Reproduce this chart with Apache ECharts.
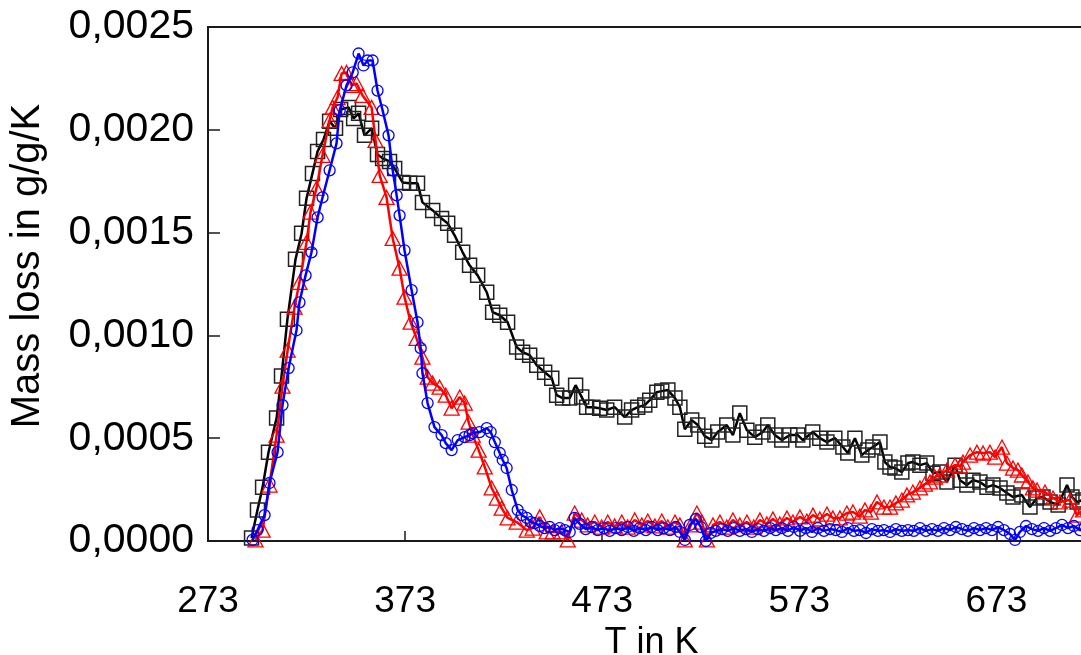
<!DOCTYPE html>
<html>
<head>
<meta charset="utf-8">
<script src="https://cdn.jsdelivr.net/npm/echarts@6/dist/echarts.min.js"></script>
<style>
html,body{margin:0;padding:0;background:#fff;}
#chart{width:1081px;height:655px;}
</style>
</head>
<body>
<div id="chart"></div>
<script>
// Axis
const xTitle = 'T in K';
const yTitle = 'Mass loss in g/g/K';
const xMin = 273, xMax = 723, xStep = 100;
const yMin = 0, yMax = 0.0025, yStep = 0.0005;

// Black squares series
const blackT = [295.1,298.1,300.7,303.7,307.8,310.3,313.3,317.4,320.5,323.0,326.0,328.6,331.6,334.7,337.7,340.3,344.3,346.9,349.4,352.4,356.0,359.0,361.6,365.1,367.7,371.7,375.3,379.3,381.8,387.0,391.5,394.6,398.1,402.2,405.7,409.8,414.4,417.4,421.0,425.0,429.6,432.6,436.2,439.8,443.8,447.4,449.9,452.9,456.5,459.5,462.6,465.1,468.2,471.7,475.3,479.3,484.4,487.9,491.0,494.6,497.1,500.7,503.2,506.3,509.9,512.4,514.9,518.4,521.5,525.0,528.6,531.6,536.2,539.3,542.8,546.4,550.4,554.5,557.0,560.6,564.1,568.2,572.2,574.8,579.8,583.4,587.0,591.0,595.1,597.6,601.2,604.7,607.8,610.3,613.9,616.4,619.0,621.5,625.0,628.1,630.6,634.2,637.7,640.8,644.3,647.9,652.0,654.5,658.0,661.1,664.6,668.2,671.2,674.8,678.3,681.4,685.9,690.0,693.6,696.6,700.2,704.3,708.8,711.3,713.9,716.9];
const blackV = [0.000015,0.000151,0.000262,0.000432,0.000598,0.000802,0.001079,0.00137,0.001497,0.001667,0.001788,0.001895,0.001953,0.002041,0.002007,0.002099,0.002109,0.002055,0.00208,0.001973,0.002007,0.00188,0.001861,0.001846,0.001812,0.001744,0.00174,0.00174,0.001647,0.001608,0.001569,0.001545,0.001487,0.001404,0.001341,0.001292,0.00121,0.001113,0.001098,0.001064,0.000943,0.000918,0.000904,0.000855,0.000821,0.000792,0.000709,0.000695,0.000695,0.000758,0.0007,0.000651,0.000651,0.000646,0.000637,0.000651,0.000603,0.000637,0.000651,0.000661,0.000685,0.000724,0.000729,0.000734,0.000695,0.000651,0.000544,0.000588,0.000564,0.00051,0.000491,0.00053,0.000564,0.000515,0.000622,0.000539,0.000505,0.00053,0.000564,0.000515,0.000491,0.000515,0.000515,0.000491,0.00053,0.0005,0.000481,0.0005,0.000457,0.000428,0.0005,0.000418,0.000442,0.000457,0.000481,0.000384,0.00036,0.000355,0.000335,0.000379,0.000384,0.000369,0.000379,0.00033,0.000335,0.000287,0.000369,0.000296,0.000272,0.000296,0.000287,0.000262,0.000272,0.000258,0.000233,0.000214,0.000224,0.000165,0.000209,0.000214,0.00019,0.000175,0.000272,0.000214,0.00019,0.0002];

// Red triangles series
const redT = [297.1,300.7,304.2,307.8,310.8,313.4,316.9,319.4,323.0,325.0,328.0,331.1,334.7,336.2,338.7,340.8,343.3,345.8,348.4,351.4,356.0,358.0,360.1,363.6,366.7,370.2,372.7,375.8,378.8,381.8,384.4,386.9,390.5,393.6,396.6,400.7,403.2,405.2,407.3,410.3,413.4,416.9,419.5,422.0,425.0,429.6,434.7,437.7,441.3,444.8,447.9,452.4,455.5,459.0,462.6,465.6,469.2,472.7,475.8,479.3,482.9,485.9,489.5,493.1,496.1,499.7,503.2,506.3,509.9,512.4,514.9,518.0,521.0,523.6,526.1,529.2,532.7,536.2,539.3,542.8,546.4,549.9,553.0,556.5,559.6,563.1,566.7,569.7,573.3,576.8,579.9,583.4,587.0,590.0,593.6,597.1,600.2,603.7,606.3,609.3,612.4,615.9,619.0,622.0,625.0,627.6,630.6,634.2,636.7,639.3,641.8,644.3,647.9,652.0,654.5,656.0,659.6,663.1,666.2,669.7,672.3,675.8,678.3,681.4,683.9,685.9,689.0,691.5,693.6,697.6,701.7,705.2,710.3,713.9,716.9];
const redV = [0.000005,0.000053,0.000272,0.000515,0.000753,0.000928,0.001137,0.001258,0.001453,0.001599,0.001715,0.001876,0.002046,0.002109,0.002157,0.002274,0.002279,0.002216,0.002225,0.002167,0.002109,0.001948,0.001778,0.001671,0.001472,0.001327,0.001186,0.001064,0.000986,0.000894,0.000797,0.000768,0.000748,0.000709,0.000646,0.0007,0.000671,0.000578,0.000515,0.000442,0.00036,0.000258,0.000209,0.00016,0.000112,0.000092,0.000053,0.000063,0.000117,0.000044,0.000044,0.000044,0.000005,0.000136,0.000102,0.000078,0.000092,0.000068,0.000092,0.000073,0.000092,0.000068,0.000102,0.000078,0.000097,0.000073,0.000097,0.000068,0.000092,0.000078,0.000005,0.000078,0.000136,0.000092,0.000005,0.000078,0.000092,0.000068,0.000102,0.000078,0.000092,0.000068,0.000102,0.000083,0.000107,0.000083,0.000112,0.000092,0.000117,0.000097,0.000126,0.000107,0.000131,0.000112,0.000112,0.000136,0.000141,0.000121,0.000151,0.000141,0.00019,0.000165,0.000165,0.000185,0.000199,0.000224,0.000238,0.000258,0.000277,0.000287,0.000311,0.000321,0.000345,0.000369,0.000364,0.000384,0.000418,0.000432,0.000428,0.000432,0.000408,0.000457,0.000379,0.000355,0.000345,0.000321,0.000287,0.000258,0.000248,0.000238,0.000209,0.00019,0.000199,0.000126,0.000151];

// Blue circles series
const blueT = [295.6,298.1,301.7,304.2,308.3,310.8,313.9,317.9,319.4,322.5,325.5,328.6,331.1,334.7,338.2,339.8,343.3,346.4,349.4,351.9,354.0,356.5,359.0,361.6,364.6,366.7,368.7,370.2,372.7,376.3,379.3,380.9,381.8,384.4,387.9,391.5,393.6,396.6,399.7,403.2,405.7,407.3,410.8,414.4,416.4,418.5,421.0,422.5,424.5,427.1,430.1,432.1,434.7,436.7,438.7,441.3,443.8,446.4,448.9,451.4,454.0,456.5,459.0,461.6,464.6,467.7,470.7,473.8,476.8,479.9,482.9,485.9,489.0,492.0,495.1,498.1,501.2,504.2,507.3,510.3,512.4,514.9,517.4,520.5,523.0,525.6,528.1,530.6,533.7,536.7,539.8,542.8,545.9,548.9,552.0,555.0,558.1,561.1,564.1,567.2,570.2,573.3,576.3,579.4,582.4,585.5,588.5,591.5,594.6,597.6,600.7,603.7,606.8,609.8,612.9,615.9,619.0,622.0,625.0,628.1,631.1,634.2,637.2,640.3,643.3,646.4,649.4,652.4,655.5,658.5,661.6,664.6,667.7,670.7,673.8,676.8,679.9,682.4,684.9,688.0,691.0,694.1,697.1,700.2,703.2,706.3,709.3,712.3,715.4,717.9];
const blueV = [0.000005,0.000053,0.000126,0.000282,0.000432,0.000661,0.000841,0.001025,0.001161,0.001292,0.001404,0.001574,0.001671,0.001803,0.001934,0.002094,0.002216,0.002279,0.002371,0.002313,0.002337,0.002337,0.002191,0.002094,0.001973,0.001803,0.001681,0.001584,0.001414,0.00122,0.001064,0.000938,0.000816,0.000671,0.000554,0.000515,0.000476,0.000442,0.000491,0.000505,0.000515,0.000525,0.00053,0.000549,0.00053,0.000481,0.000428,0.000394,0.000355,0.000248,0.000151,0.000126,0.000112,0.000092,0.000087,0.000073,0.000063,0.000068,0.000053,0.000063,0.000053,0.000044,0.000112,0.000083,0.000058,0.000068,0.000053,0.000063,0.000049,0.000063,0.000053,0.000068,0.000049,0.000063,0.000053,0.000068,0.000053,0.000063,0.000053,0.000068,0.000044,0.000005,0.000078,0.000107,0.000068,0.0,0.000039,0.000049,0.000058,0.000049,0.000063,0.000049,0.000058,0.000044,0.000058,0.000049,0.000063,0.000053,0.000063,0.000049,0.000068,0.000049,0.000063,0.000044,0.000063,0.000049,0.000058,0.000053,0.000044,0.000063,0.000049,0.000053,0.000039,0.000058,0.000049,0.000053,0.000044,0.000058,0.000049,0.000053,0.000049,0.000063,0.000049,0.000058,0.000049,0.000063,0.000053,0.000068,0.000058,0.000049,0.000063,0.000053,0.000063,0.000053,0.000068,0.000053,0.000034,0.000005,0.000044,0.000073,0.000058,0.000049,0.000063,0.000049,0.000063,0.000078,0.000063,0.000073,0.000053,0.000068];

function pairs(t, v) { return t.map((x, i) => [x, v[i]]); }

const chart = echarts.init(document.getElementById('chart'), null, {renderer: 'canvas'});
const axisColor = '#1a1a1a';
chart.setOption({
  animation: false,
  backgroundColor: '#fff',
  grid: {
    left: 208, top: 27, bottom: 114, right: -14,
    outerBoundsMode: 'none', containLabel: false,
    show: true, borderColor: axisColor, borderWidth: 2, backgroundColor: 'transparent'
  },
  xAxis: {
    type: 'value', min: xMin, max: xMax, interval: xStep,
    name: xTitle, nameLocation: 'middle', nameGap: 76,
    nameTextStyle: {fontFamily: 'Liberation Sans', fontSize: 36, color: '#000'},
    axisLine: {show: true, onZero: false, lineStyle: {color: axisColor, width: 2}},
    axisTick: {show: true, inside: true, length: 10, lineStyle: {color: axisColor, width: 1.5}},
    axisLabel: {show: true, margin: 42, showMaxLabel: false, fontFamily: 'Liberation Sans', fontSize: 37, color: '#000'},
    splitLine: {show: false}
  },
  yAxis: {
    type: 'value', min: yMin, max: yMax, interval: yStep,
    name: yTitle, nameLocation: 'middle', nameRotate: 90, nameGap: 160,
    nameTextStyle: {fontFamily: 'Liberation Sans', fontSize: 40, color: '#000', padding: [0, 0, 0, 36]},
    axisLine: {show: true, onZero: false, lineStyle: {color: axisColor, width: 2}},
    axisTick: {show: true, inside: true, length: 12, lineStyle: {color: axisColor, width: 1.5}},
    axisLabel: {show: true, margin: 14, fontFamily: 'Liberation Sans', fontSize: 41, color: '#000',
      formatter: v => v.toFixed(4).replace('.', ',')},
    splitLine: {show: false}
  },
  series: [
    {
      type: 'line', data: pairs(blackT, blackV), symbol: 'rect', symbolSize: 14,
      lineStyle: {color: '#000', width: 2.5},
      itemStyle: {color: 'transparent', borderColor: '#222', borderWidth: 1.5},
      z: 2
    },
    {
      type: 'line', data: pairs(redT, redV), symbol: 'triangle', symbolSize: [15, 14],
      lineStyle: {color: '#ff0000', width: 2.5},
      itemStyle: {color: 'transparent', borderColor: '#ff0000', borderWidth: 1.3},
      z: 3
    },
    {
      type: 'line', data: pairs(blueT, blueV), symbol: 'circle', symbolSize: 11,
      lineStyle: {color: '#0000ff', width: 2.5},
      itemStyle: {color: 'transparent', borderColor: '#0000ff', borderWidth: 1.3},
      z: 4
    }
  ]
});
</script>
</body>
</html>
